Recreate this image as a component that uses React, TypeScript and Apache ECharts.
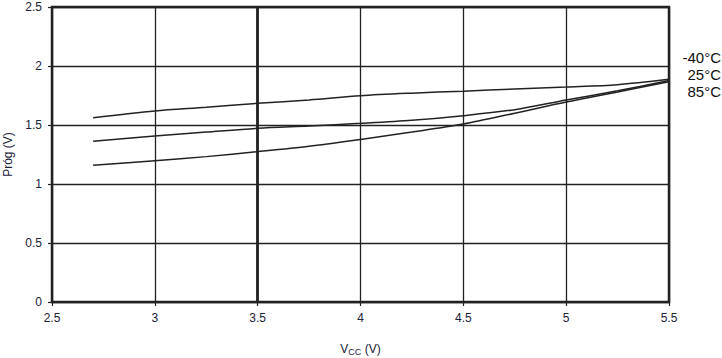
import React, { useEffect, useRef } from "react";
import * as echarts from "echarts";

const vcc = [2.7, 3.0, 3.25, 3.5, 3.75, 4.0, 4.25, 4.5, 4.75, 5.0, 5.25, 5.5];
const tMinus40 = [1.562, 1.619, 1.65, 1.684, 1.712, 1.748, 1.77, 1.787, 1.805, 1.822, 1.842, 1.887];
const t25 = [1.362, 1.407, 1.44, 1.472, 1.492, 1.514, 1.54, 1.579, 1.63, 1.712, 1.79, 1.877];
const t85 = [1.158, 1.197, 1.232, 1.274, 1.32, 1.378, 1.44, 1.508, 1.6, 1.695, 1.78, 1.867];
const seriesNames = ["-40°C", "25°C", "85°C"];

const mk = (vals: number[]) => vcc.map((x, i) => [x, vals[i]]);

export default function App() {
  const ref = useRef<HTMLDivElement>(null);
  useEffect(() => {
    if (!ref.current) return;
    const chart = echarts.init(ref.current, null, { renderer: "svg" });
    const ink = "#222";
    const lineStyle = { color: ink, width: 1.5 };
    chart.setOption({
      animation: false,
      backgroundColor: "#fff",
      textStyle: { fontFamily: "Liberation Sans, Arial, sans-serif" },
      grid: {
        left: 52,
        right: 53,
        top: 7,
        bottom: 56,
        outerBoundsMode: "none",
        containLabel: false,
        show: true,
        borderColor: ink,
        borderWidth: 2.5,
        backgroundColor: "transparent",
      },
      xAxis: {
        type: "value",
        min: 2.5,
        max: 5.5,
        interval: 0.5,
        axisLine: { show: false },
        axisTick: { show: true, length: 4, lineStyle: { color: ink, width: 1.2 } },
        splitLine: { show: true, lineStyle: { color: ink, width: 1.3 } },
        axisLabel: { color: "#202038", fontSize: 12, margin: 10 },
        name: "{n|V}{s|CC}{n| (V)}",
        nameLocation: "middle",
        nameGap: 40,
        nameTextStyle: {
          rich: {
            n: { fontSize: 12, color: "#202038" },
            s: { fontSize: 9, color: "#202038", padding: [5, 0, 0, 0] },
          },
        },
      },
      yAxis: {
        type: "value",
        min: 0,
        max: 2.5,
        interval: 0.5,
        axisLine: { show: false },
        axisTick: { show: true, length: 4, lineStyle: { color: ink, width: 1.2 } },
        splitLine: { show: true, lineStyle: { color: ink, width: 1.3 } },
        axisLabel: { color: "#202038", fontSize: 12, margin: 10 },
        name: "Próg (V)",
        nameLocation: "middle",
        nameGap: 38,
        nameTextStyle: { fontSize: 12, color: "#202038" },
      },
      series: [
        {
          name: seriesNames[0],
          type: "line",
          data: mk(tMinus40),
          smooth: 0.3,
          showSymbol: false,
          lineStyle,
          markLine: {
            silent: true,
            symbol: "none",
            label: { show: false },
            lineStyle: { color: ink, width: 2.8, type: "solid" },
            data: [{ xAxis: 3.5 }],
          },
        },
        { name: seriesNames[1], type: "line", data: mk(t25), smooth: 0.3, showSymbol: false, lineStyle },
        { name: seriesNames[2], type: "line", data: mk(t85), smooth: 0.3, showSymbol: false, lineStyle },
      ],
      graphic: seriesNames.map((s, i) => ({
        type: "text",
        right: 1,
        top: 50 + i * 17,
        style: { text: s, fontSize: 15, fill: "#111", fontFamily: "Liberation Sans, Arial, sans-serif", textAlign: "right" },
      })),
    });
    return () => chart.dispose();
  }, []);
  return <div ref={ref} style={{ width: 722, height: 358, position: "absolute", left: 0, top: 0 }} />;
}
